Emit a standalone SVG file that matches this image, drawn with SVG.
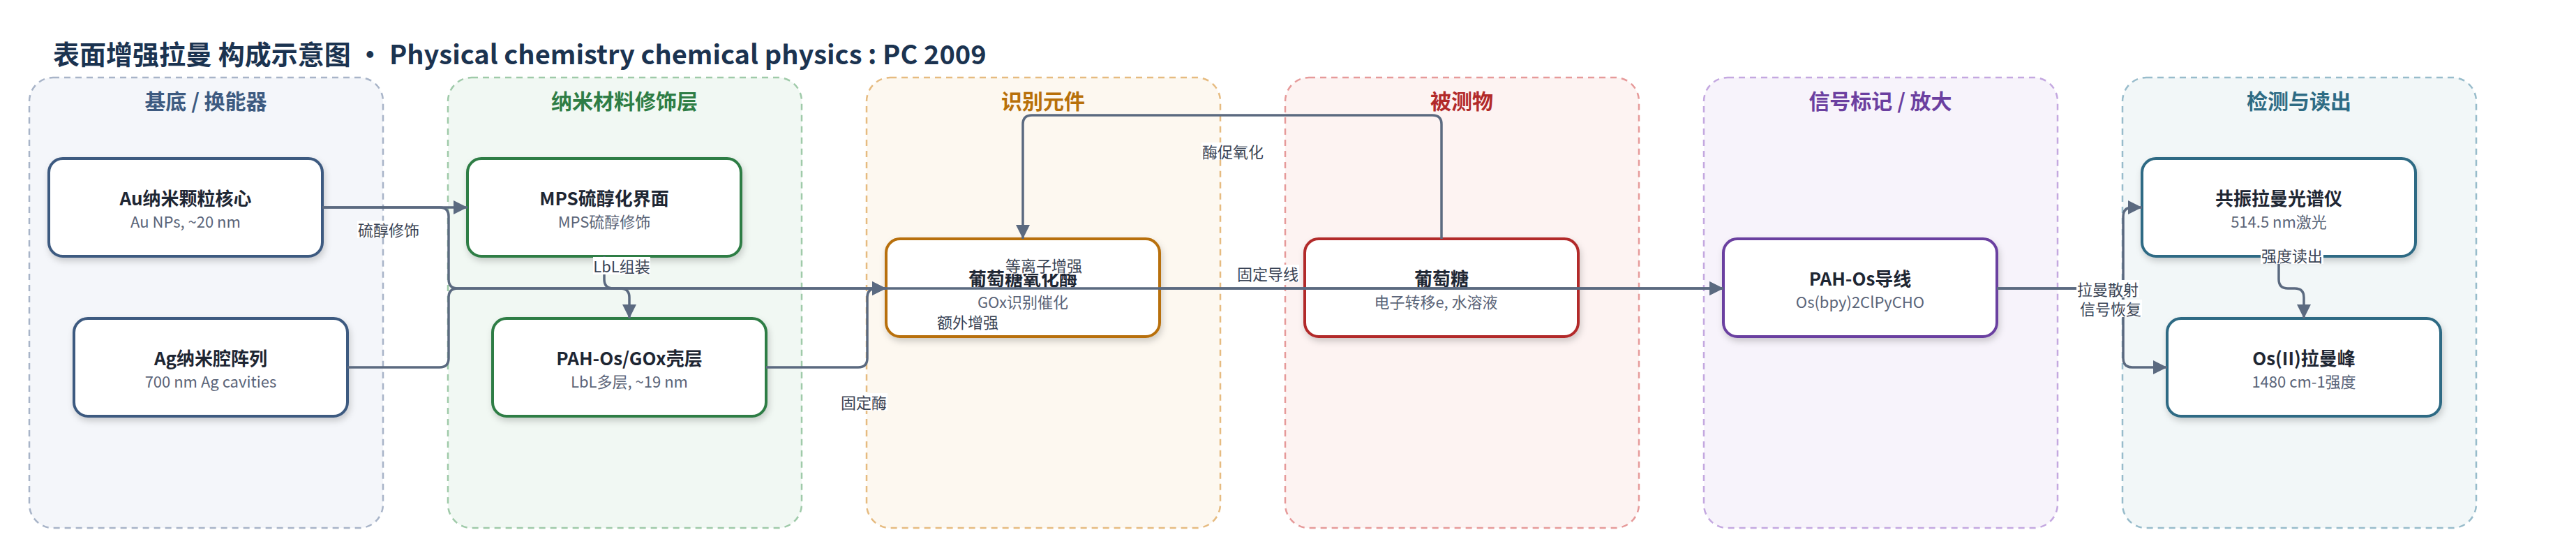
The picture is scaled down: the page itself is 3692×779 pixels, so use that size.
<svg xmlns="http://www.w3.org/2000/svg" width="3692" height="779" viewBox="0 0 3692 779">
<style>
.t{font-family:"Noto Sans CJK SC","Noto Sans",sans-serif}
.main{font-size:38px;font-weight:700;fill:#1b3350}
.ct{font-size:30px;font-weight:700;text-anchor:middle}
.cl{stroke-width:2.5;stroke-dasharray:9 7}
.nd{fill:#fff;stroke-width:4}
.nt{font-size:26px;font-weight:700;fill:#1e2633;text-anchor:middle}
.ns{font-size:22px;fill:#5a6478;text-anchor:middle}
.e{fill:none;stroke:#5b6a80;stroke-width:3.5}
.lb{fill:#fff}
.lt{font-size:22px;fill:#3a4455;text-anchor:middle;dominant-baseline:central}
</style>
<defs>
<marker id="ar" markerUnits="userSpaceOnUse" markerWidth="22" markerHeight="22" refX="20" refY="10" orient="auto">
<path d="M0,0 L20,10 L0,20 z" fill="#5b6a80"/>
</marker>
<filter id="sh" x="-10%" y="-15%" width="125%" height="145%">
<feDropShadow dx="2" dy="5" stdDeviation="5" flood-color="#000" flood-opacity="0.18"/>
</filter>
</defs>
<rect width="3692" height="779" fill="#fff"/>
<text class="t main" x="76" y="92">表面增强拉曼 构成示意图 • Physical chemistry chemical physics : PC 2009</text>

<g id="clusters">
<g id="c1"><rect class="cl" x="42" y="111" width="507" height="645" rx="34" fill="#f4f6fa" stroke="#a8b4c8"/><text class="t ct" x="295" y="156" fill="#3d5a80">基底 / 换能器</text></g>
<g id="c2"><rect class="cl" x="642" y="111" width="507" height="645" rx="34" fill="#f1f8f3" stroke="#9fcaa9"/><text class="t ct" x="895" y="156" fill="#2e7d45">纳米材料修饰层</text></g>
<g id="c3"><rect class="cl" x="1242" y="111" width="507" height="645" rx="34" fill="#fdf8f0" stroke="#e6bb80"/><text class="t ct" x="1495" y="156" fill="#b8700a">识别元件</text></g>
<g id="c4"><rect class="cl" x="1842" y="111" width="507" height="645" rx="34" fill="#fdf3f2" stroke="#e69a9a"/><text class="t ct" x="2095" y="156" fill="#b22a2a">被测物</text></g>
<g id="c5"><rect class="cl" x="2442" y="111" width="507" height="645" rx="34" fill="#f7f3fb" stroke="#c4a8e0"/><text class="t ct" x="2695" y="156" fill="#6b3fa0">信号标记 / 放大</text></g>
<g id="c6"><rect class="cl" x="3042" y="111" width="507" height="645" rx="34" fill="#f2f7f8" stroke="#98bccb"/><text class="t ct" x="3295" y="156" fill="#2e6b84">检测与读出</text></g>
</g>

<g id="nodes">
<g id="n-au"><rect class="nd" filter="url(#sh)" x="70" y="227" width="392" height="140" rx="20" stroke="#3d5a80"/><text class="t nt" x="266" y="294">Au纳米颗粒核心</text><text class="t ns" x="266" y="326">Au NPs, ~20 nm</text></g>
<g id="n-ag"><rect class="nd" filter="url(#sh)" x="106" y="456" width="392" height="140" rx="20" stroke="#3d5a80"/><text class="t nt" x="302" y="523">Ag纳米腔阵列</text><text class="t ns" x="302" y="555">700 nm Ag cavities</text></g>
<g id="n-mps"><rect class="nd" filter="url(#sh)" x="670" y="227" width="392" height="140" rx="20" stroke="#2e7d45"/><text class="t nt" x="866" y="294">MPS硫醇化界面</text><text class="t ns" x="866" y="326">MPS硫醇修饰</text></g>
<g id="n-pahgox"><rect class="nd" filter="url(#sh)" x="706" y="456" width="392" height="140" rx="20" stroke="#2e7d45"/><text class="t nt" x="902" y="523">PAH-Os/GOx壳层</text><text class="t ns" x="902" y="555">LbL多层, ~19 nm</text></g>
<g id="n-gox"><rect class="nd" filter="url(#sh)" x="1270" y="342" width="392" height="140" rx="20" stroke="#b8700a"/><text class="t nt" x="1466" y="409">葡萄糖氧化酶</text><text class="t ns" x="1466" y="441">GOx识别催化</text></g>
<g id="n-glu"><rect class="nd" filter="url(#sh)" x="1870" y="342" width="392" height="140" rx="20" stroke="#b22a2a"/><text class="t nt" x="2066" y="409">葡萄糖</text><text class="t ns" x="2058" y="441">电子转移e, 水溶液</text></g>
<g id="n-wire"><rect class="nd" filter="url(#sh)" x="2470" y="342" width="392" height="140" rx="20" stroke="#6b3fa0"/><text class="t nt" x="2666" y="409">PAH-Os导线</text><text class="t ns" x="2666" y="441">Os(bpy)2ClPyCHO</text></g>
<g id="n-rr"><rect class="nd" filter="url(#sh)" x="3070" y="227" width="392" height="140" rx="20" stroke="#2e6b84"/><text class="t nt" x="3266" y="294">共振拉曼光谱仪</text><text class="t ns" x="3266" y="326">514.5 nm激光</text></g>
<g id="n-peak"><rect class="nd" filter="url(#sh)" x="3106" y="456" width="392" height="140" rx="20" stroke="#2e6b84"/><text class="t nt" x="3302" y="523">Os(II)拉曼峰</text><text class="t ns" x="3302" y="555">1480 cm-1强度</text></g>
</g>

<g id="connectors">
<path class="e" marker-end="url(#ar)" d="M462,297 H670"/>
<path class="e" marker-end="url(#ar)" d="M462,297 H630 Q643,297 643,310 V400 Q643,413 656,413 H2470"/>
<path class="e" marker-end="url(#ar)" d="M498,526 H630 Q643,526 643,513 V426 Q643,413 656,413 H1270"/>
<path class="e" marker-end="url(#ar)" d="M866,367 V400 Q866,413 879,413 H889 Q902,413 902,426 V456"/>
<path class="e" marker-end="url(#ar)" d="M1098,526 H1230 Q1243,526 1243,513 V426 Q1243,413 1256,413 H1270"/>
<path class="e" marker-end="url(#ar)" d="M2066,342 V178 Q2066,165 2053,165 H1479 Q1466,165 1466,178 V342"/>
<path class="e" marker-end="url(#ar)" d="M1662,413 H2470"/>
<path class="e" marker-end="url(#ar)" d="M2862,413 H3030 Q3043,413 3043,400 V310 Q3043,297 3056,297 H3070"/>
<path class="e" marker-end="url(#ar)" d="M2862,413 H3030 Q3043,413 3043,426 V513 Q3043,526 3056,526 H3106"/>
<path class="e" marker-end="url(#ar)" d="M3266,367 V400 Q3266,413 3279,413 H3289 Q3302,413 3302,426 V456"/>
</g>

<g id="labels">
<rect class="lb" x="512" y="316" width="90" height="25"/><text class="t lt" x="557" y="328">硫醇修饰</text>
<rect class="lb" x="1440" y="367" width="112" height="25"/><text class="t lt" x="1496" y="379">等离子增强</text>
<rect class="lb" x="1342" y="448" width="90" height="25"/><text class="t lt" x="1387" y="460">额外增强</text>
<rect class="lb" x="1204" y="563" width="68" height="25"/><text class="t lt" x="1238" y="575">固定酶</text>
<rect class="lb" x="1772" y="379" width="90" height="25"/><text class="t lt" x="1817" y="391">固定导线</text>
<rect class="lb" x="1722" y="204" width="90" height="25"/><text class="t lt" x="1767" y="216">酶促氧化</text>
<rect class="lb" x="850" y="368" width="82" height="25"/><text class="t lt" x="891" y="380">LbL组装</text>
<rect class="lb" x="2976" y="401" width="90" height="25"/><text class="t lt" x="3021" y="413">拉曼散射</text>
<rect class="lb" x="2980" y="429" width="90" height="25"/><text class="t lt" x="3025" y="441">信号恢复</text>
<rect class="lb" x="3240" y="353" width="90" height="25"/><text class="t lt" x="3285" y="365">强度读出</text>
</g>
</svg>
